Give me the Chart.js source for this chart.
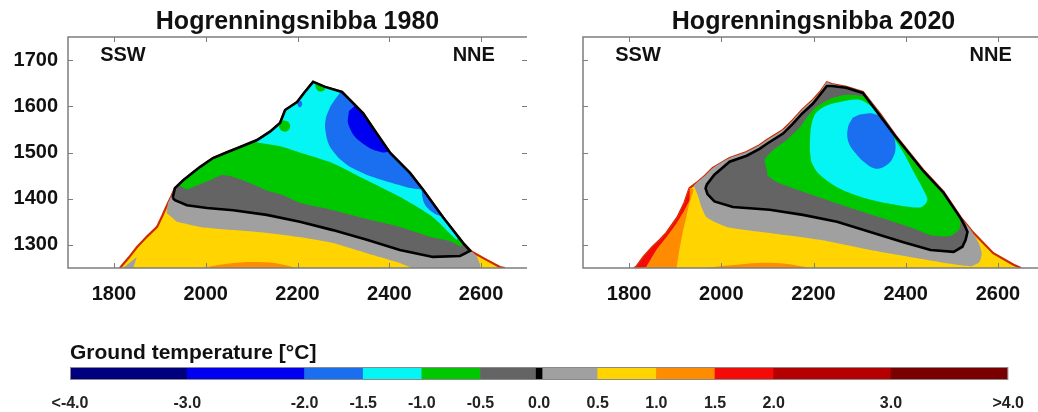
<!DOCTYPE html>
<html>
<head>
<meta charset="utf-8">
<script src="https://cdn.jsdelivr.net/npm/chart.js@4.4.1/dist/chart.umd.min.js"></script>
<style>
  html, body { margin: 0; padding: 0; background: #fff; overflow: hidden; }
  #wrap { position: relative; width: 1038px; height: 412px; overflow: hidden; }
  canvas { position: absolute; }
  #c1980 { left: 0; top: 0; }
  #c2020 { left: 515px; top: 0; }
  #cbar { left: 0; top: 335px; }
</style>
</head>
<body>
<div id="wrap">
  <canvas id="c1980" width="530" height="310"></canvas>
  <canvas id="c2020" width="532" height="310"></canvas>
  <canvas id="cbar" width="1038" height="77"></canvas>
</div>
<script>
// axis ticks (distance [m], elevation [m a.s.l.])
const xTicks = [1800, 2000, 2200, 2400, 2600];
const yTicks = [1300, 1400, 1500, 1600, 1700];

// colour bar: class edges and colours (ground temperature, deg C)
const cbEdges = [-4, -3, -2, -1.5, -1, -0.5, 0, 0.5, 1, 1.5, 2, 3, 4];
const cbColors = ['#00007e', '#0000f0', '#1a6ef0', '#05f5f5', '#00c800', '#646464',
                  '#a0a0a0', '#ffd400', '#ff8c00', '#f50a0a', '#b40000', '#7a0000'];
const zeroMark = [-0.025, 0.025];

// ---- 1980 profile: ground surface and isotherm regions [x, elevation] ----
const s80 = [[1813,1250],[1832,1272],[1850,1295],[1872,1318],[1894,1339],[1905,1362],[1918,1391],
  [1925,1405],[1933,1423],[1951,1440],[1970,1455],[1988,1469],[2016,1488],[2045,1500],[2075,1512],
  [2112,1527],[2140,1545],[2162,1564],[2173,1592],[2199,1609],[2215,1630],[2234,1653],[2260,1642],
  [2297,1631],[2319,1609],[2343,1585],[2372,1542],[2402,1499],[2445,1456],[2474,1419],[2517,1360],
  [2561,1304],[2580,1285],[2613,1267],[2641,1252],[2652,1250]];
const lens80 = [[1994,1250],[2030,1257],[2090,1263],[2150,1261],[2199,1250]];
const wedge80 = [[1820,1250],[1850,1274],[1842,1250]];
const edge05_80 = [[2590,1276],[2596,1262],[2598,1250],[2452,1250],[2423,1261],[2351,1282],
  [2277,1304],[2205,1317],[2133,1326],[2060,1332],[1988,1339],[1937,1350]];
const edge0_80 = [[2576,1287],[2554,1276],[2495,1274],[2423,1289],[2351,1311],[2277,1332],
  [2205,1350],[2133,1365],[2060,1375],[2003,1380],[1959,1386],[1933,1397]];
const edgeM05_80 = [[2556,1297],[2532,1308],[2495,1316],[2423,1339],[2351,1356],[2277,1375],
  [2205,1391],[2168,1408],[2133,1418],[2096,1434],[2060,1447],[2035,1451],[2009,1440],[1980,1428],[1959,1420]];
const edgeM1_80 = [[2548,1321],[2547,1311],[2495,1360],[2423,1404],[2351,1440],[2277,1477],
  [2205,1500],[2168,1512],[2110,1522]];
const edgeM15_80 = [[2471,1421],[2445,1423],[2420,1430],[2386,1440],[2350,1452],[2314,1469],
  [2290,1488],[2271,1512],[2264,1530],[2260,1555],[2262,1575],[2271,1598],[2282,1615],[2293,1630]];
const edgeM2_80 = [[2399,1503],[2386,1500],[2358,1509],[2325,1534],[2310,1564],[2312,1590]];
const spot80 = [[2470,1422],[2472,1405],[2476,1390],[2487,1376],[2502,1366],[2515,1362]];
const dot80 = [[2199,1606],[2204,1598],[2210,1603],[2208,1611],[2202,1612]];
const blob80 = [[2162,1566],[2160,1556],[2166,1547],[2177,1546],[2184,1556],[2180,1566],[2170,1570]];
const peak80 = [[2238,1647],[2242,1636],[2252,1632],[2260,1637],[2256,1644]];

// ---- 2020 profile ----
const s20 = [[1811,1250],[1815,1252],[1832,1275],[1850,1295],[1866,1310],[1881,1326],[1905,1360],
  [1920,1391],[1931,1423],[1946,1434],[1965,1450],[1981,1466],[2018,1488],[2055,1501],[2083,1516],
  [2099,1527],[2134,1549],[2155,1570],[2175,1592],[2199,1614],[2215,1632],[2229,1652],[2240,1648],
  [2271,1642],[2307,1631],[2345,1583],[2380,1534],[2438,1462],[2482,1415],[2519,1360],[2547,1326],
  [2590,1282],[2634,1257],[2650,1250]];
const edgeOrange20 = [[1940,1420],[1931,1391],[1924,1360],[1916,1326],[1909,1289],[1903,1250]];
const edgeRed20 = [[1931,1397],[1920,1375],[1903,1347],[1881,1317],[1859,1289],[1837,1252]];
const lens20 = [[1968,1250],[2020,1256],[2080,1261],[2140,1259],[2192,1250]];
const edge05_20 = [[2541,1333],[2558,1305],[2565,1282],[2560,1263],[2542,1254],[2504,1258],
  [2432,1270],[2323,1289],[2214,1311],[2105,1326],[2012,1339],[1968,1360],[1957,1382],[1950,1405],[1944,1420]];
const zero20 = [[1968,1430],[1985,1452],[2018,1480],[2055,1493],[2083,1508],[2099,1519],[2134,1541],
  [2155,1562],[2175,1584],[2199,1606],[2229,1644],[2240,1644],[2271,1640],[2307,1629],[2380,1532],
  [2438,1460],[2482,1413],[2519,1358],[2528,1342],[2534,1328],[2530,1311],[2523,1296],[2504,1285],
  [2454,1289],[2395,1306],[2323,1328],[2251,1350],[2177,1365],[2105,1376],[2025,1382],[1985,1394],
  [1970,1410],[1966,1422]];
const topM05_20 = [[2099,1462],[2094,1484],[2112,1505],[2142,1527],[2171,1555],[2186,1577],
  [2205,1598],[2236,1616],[2271,1625],[2312,1620]];
const edgeM05_20 = [[2510,1368],[2519,1350],[2515,1332],[2497,1319],[2454,1321],[2410,1338],
  [2286,1378],[2177,1415],[2120,1436],[2100,1450]];
const cyan20 = [[2192,1505],[2194,1550],[2203,1582],[2225,1600],[2260,1610],[2300,1614],[2330,1595],
  [2365,1545],[2395,1500],[2415,1462],[2438,1420],[2447,1397],[2432,1381],[2360,1390],[2300,1405],
  [2251,1425],[2210,1455],[2195,1480]];
const blue20 = [[2300,1582],[2330,1584],[2355,1570],[2370,1545],[2378,1515],[2372,1488],[2355,1470],
  [2335,1465],[2315,1475],[2290,1500],[2275,1525],[2275,1555],[2285,1575]];

const along = (surf, x0, x1) => surf.filter(p => p[0] >= x0 && p[0] <= x1);
const pts = arr => arr.map(([x, y]) => ({ x, y }));

function region(arr, color, tension) {
  return {
    data: pts(arr), backgroundColor: color, borderColor: 'rgba(0,0,0,0)', borderWidth: 0,
    fill: 'shape', pointRadius: 0, tension: tension || 0
  };
}
function outline(arr, color, width) {
  return {
    data: pts(arr), backgroundColor: 'rgba(0,0,0,0)', borderColor: color, borderWidth: width,
    fill: false, pointRadius: 0, tension: 0
  };
}
function mountain(arr) {
  return {
    data: pts(arr), backgroundColor: cbColors[7], borderColor: '#cc2a00', borderWidth: 2.2,
    fill: 'shape', pointRadius: 0, tension: 0
  };
}

const below0_80 = [[1928,1402], ...along(s80, 1930, 2575), ...edge0_80];
const layers80 = [
  mountain(s80),
  region(lens80, cbColors[8], 0.3),
  region(wedge80, cbColors[6]),
  region([[1915,1369], ...along(s80, 1916, 2589), ...edge05_80], cbColors[6], 0.2),
  region(below0_80, cbColors[5], 0.2),
  region([[1940,1430], ...along(s80, 1945, 2562), ...edgeM05_80], cbColors[4], 0.2),
  region([...along(s80, 2105, 2548), ...edgeM1_80], cbColors[3], 0.2),
  region(blob80, cbColors[4], 0.4),
  region(peak80, cbColors[4], 0.4),
  region([...along(s80, 2295, 2472), ...edgeM15_80], cbColors[2], 0.2),
  region(spot80, cbColors[2], 0.3),
  region(dot80, cbColors[2], 0.4),
  region([[2326,1602], ...along(s80, 2330, 2400), ...edgeM2_80], cbColors[1], 0.25),
  outline([...below0_80, below0_80[0]], '#000', 2.6)
];

const layers20 = [
  mountain(s20),
  region([...along(s20, 1810, 1941), ...edgeOrange20], cbColors[8], 0.1),
  region([...along(s20, 1810, 1932), ...edgeRed20], cbColors[9], 0.1),
  region(lens20, cbColors[8], 0.3),
  region([[1940,1428], ...along(s20, 1945, 2542), ...edge05_20], cbColors[6], 0.2),
  region(zero20, cbColors[5], 0.2),
  region([...topM05_20, ...along(s20, 2340, 2505), ...edgeM05_20], cbColors[4], 0.2),
  region(cyan20, cbColors[3], 0.3),
  region(blue20, cbColors[2], 0.4),
  outline([...zero20, zero20[0]], '#000', 2.6)
];

// frame with inward ticks, panel title and SSW / NNE labels
const panelFrame = {
  id: 'panelFrame',
  afterDraw(chart, args, opts) {
    const { ctx, chartArea: a, scales: { x, y } } = chart;
    ctx.save();
    ctx.strokeStyle = '#7d7d7d';
    ctx.lineWidth = 1.5;
    ctx.beginPath();
    ctx.moveTo(a.right, a.top);
    ctx.lineTo(a.left, a.top);
    ctx.lineTo(a.left, a.bottom);
    ctx.lineTo(a.right, a.bottom);
    ctx.stroke();
    ctx.lineWidth = 1;
    ctx.beginPath();
    xTicks.forEach(v => {
      const px = Math.round(x.getPixelForValue(v)) + 0.5;
      ctx.moveTo(px, a.bottom); ctx.lineTo(px, a.bottom - 5);
      ctx.moveTo(px, a.top); ctx.lineTo(px, a.top + 5);
    });
    yTicks.forEach(v => {
      const py = Math.round(y.getPixelForValue(v)) + 0.5;
      ctx.moveTo(a.left, py); ctx.lineTo(a.left + 5, py);
      ctx.moveTo(a.right, py); ctx.lineTo(a.right - 5, py);
    });
    ctx.stroke();

    ctx.fillStyle = '#111';
    ctx.textBaseline = 'middle';
    ctx.font = 'bold 25px "Liberation Sans", Arial, sans-serif';
    ctx.textAlign = 'center';
    ctx.fillText(opts.title, (a.left + a.right) / 2, 22);
    ctx.font = 'bold 20px "Liberation Sans", Arial, sans-serif';
    ctx.textAlign = 'left';
    ctx.fillText('SSW', x.getPixelForValue(1770), y.getPixelForValue(1711));
    ctx.textAlign = 'right';
    ctx.fillText('NNE', x.getPixelForValue(2630), y.getPixelForValue(1711));
    ctx.restore();
  }
};

function panel(id, title, layers, showY) {
  new Chart(document.getElementById(id), {
    type: 'line',
    data: { datasets: layers.map((d, i) => ({ ...d, order: -i })) },
    plugins: [panelFrame],
    options: {
      responsive: false,
      animation: false,
      events: [],
      layout: { padding: { left: 0, top: 37, right: 3, bottom: 0 } },
      plugins: { legend: { display: false }, tooltip: { enabled: false }, panelFrame: { title } },
      scales: {
        x: {
          type: 'linear', min: 1700, max: 2700,
          afterBuildTicks: s => { s.ticks = xTicks.map(v => ({ value: v })); },
          afterFit: s => { s.height = 42; },
          grid: { display: false, drawTicks: false }, border: { display: false },
          ticks: { callback: v => String(v), font: { size: 20, weight: 'bold' }, color: '#111',
                   padding: 14, maxRotation: 0, autoSkip: false }
        },
        y: {
          type: 'linear', min: 1250, max: 1750,
          afterBuildTicks: s => { s.ticks = yTicks.map(v => ({ value: v })); },
          afterFit: s => { s.width = 68; },
          grid: { display: false, drawTicks: false }, border: { display: false },
          ticks: { display: showY, callback: v => String(v), font: { size: 20, weight: 'bold' },
                   color: '#111', padding: 10, autoSkip: false }
        }
      }
    }
  });
}

Chart.defaults.font.family = '"Liberation Sans", Arial, sans-serif';
panel('c1980', 'Hogrenningsnibba 1980', layers80, true);
panel('c2020', 'Hogrenningsnibba 2020', layers20, false);

// colour bar
const barFrame = {
  id: 'barFrame',
  afterDraw(chart) {
    const { ctx, chartArea: a } = chart;
    ctx.save();
    ctx.strokeStyle = '#8a8a8a';
    ctx.lineWidth = 1;
    ctx.strokeRect(a.left + 0.5, a.top + 0.5, a.right - a.left - 1, a.bottom - a.top - 1);
    ctx.fillStyle = '#111';
    ctx.font = 'bold 21px "Liberation Sans", Arial, sans-serif';
    ctx.textAlign = 'left';
    ctx.textBaseline = 'middle';
    ctx.fillText('Ground temperature [°C]', a.left, 18);
    ctx.restore();
  }
};

const cbSegments = cbEdges.slice(0, -1).map((lo, i) => ({ x: [lo, cbEdges[i + 1]], y: 'cb' }));
new Chart(document.getElementById('cbar'), {
  type: 'bar',
  data: {
    labels: ['cb'],
    datasets: [{
      data: [...cbSegments, { x: zeroMark, y: 'cb' }],
      backgroundColor: [...cbColors, '#000'],
      borderWidth: 0,
      barPercentage: 1,
      categoryPercentage: 1
    }]
  },
  plugins: [barFrame],
  options: {
    indexAxis: 'y',
    responsive: false,
    animation: false,
    events: [],
    layout: { padding: { left: 70, right: 27, top: 32, bottom: 0 } },
    plugins: { legend: { display: false }, tooltip: { enabled: false } },
    scales: {
      x: {
        type: 'linear', min: -4, max: 4,
        afterBuildTicks: s => { s.ticks = cbEdges.map(v => ({ value: v })); },
        afterFit: s => { s.height = 32; },
        grid: { display: false, drawTicks: false }, border: { display: false },
        ticks: {
          callback: v => v === -4 ? '<-4.0' : v === 4 ? '>4.0' : v.toFixed(1),
          font: { size: 16, weight: 'bold' }, color: '#222', padding: 14,
          maxRotation: 0, autoSkip: false
        }
      },
      y: { display: false }
    }
  }
});
</script>
</body>
</html>
